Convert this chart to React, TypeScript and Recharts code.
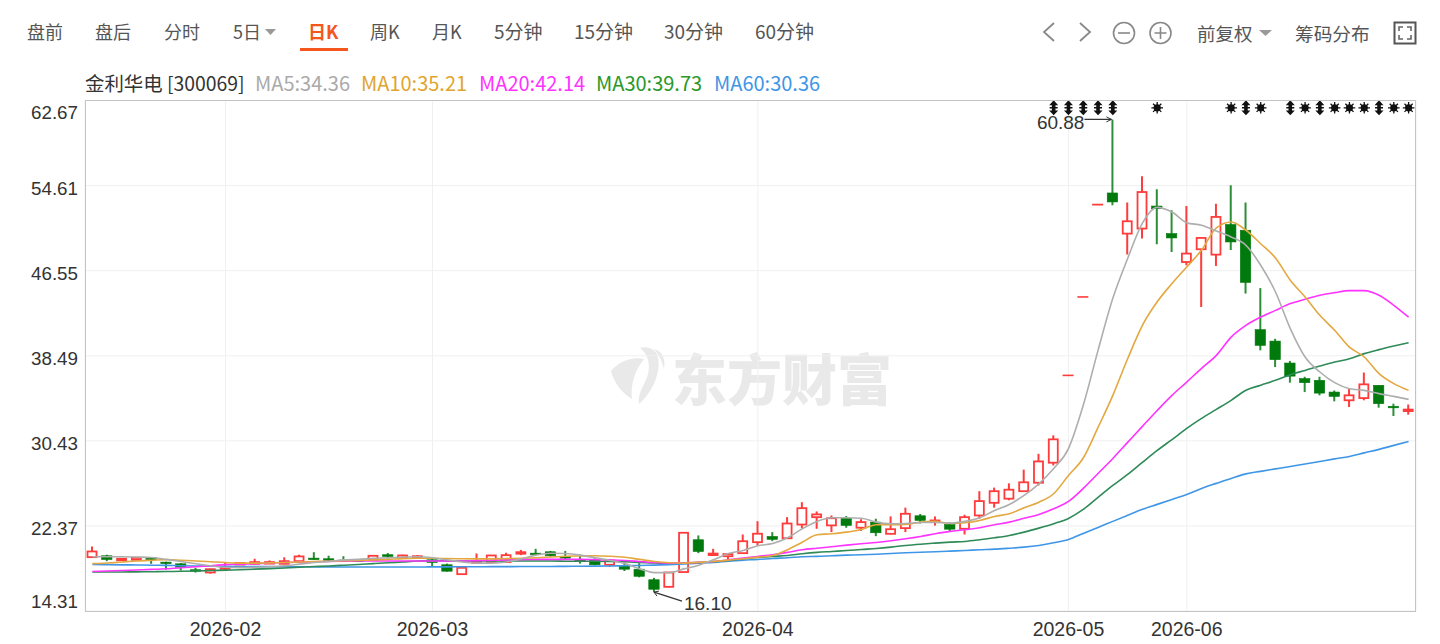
import React from 'react';
import { ComposedChart, Bar, Line, XAxis, YAxis, CartesianGrid } from 'recharts';

const dates = [
  '2026-01-20','2026-01-21','2026-01-22','2026-01-23','2026-01-26','2026-01-27','2026-01-28','2026-01-29','2026-01-30',
  '2026-02-02','2026-02-03','2026-02-04','2026-02-05','2026-02-06','2026-02-09','2026-02-10','2026-02-11','2026-02-12','2026-02-13','2026-02-24','2026-02-25','2026-02-26','2026-02-27',
  '2026-03-02','2026-03-03','2026-03-04','2026-03-05','2026-03-06','2026-03-09','2026-03-10','2026-03-11','2026-03-12','2026-03-13','2026-03-16','2026-03-17','2026-03-18','2026-03-19','2026-03-20','2026-03-23','2026-03-24','2026-03-25','2026-03-26','2026-03-27','2026-03-30','2026-03-31',
  '2026-04-01','2026-04-02','2026-04-03','2026-04-07','2026-04-08','2026-04-09','2026-04-10','2026-04-13','2026-04-14','2026-04-15','2026-04-16','2026-04-17','2026-04-20','2026-04-21','2026-04-22','2026-04-23','2026-04-24','2026-04-27','2026-04-28','2026-04-29','2026-04-30',
  '2026-05-06','2026-05-07','2026-05-08','2026-05-11','2026-05-12','2026-05-13','2026-05-14','2026-05-15',
  '2026-06-01','2026-06-02','2026-06-03','2026-06-04','2026-06-05','2026-06-08','2026-06-09','2026-06-10','2026-06-11','2026-06-12','2026-06-15','2026-06-16','2026-06-17','2026-06-18','2026-06-22','2026-06-23',
];
const monthTicks = ['2026-02-02','2026-03-02','2026-04-01','2026-05-06','2026-06-01'];
const priceTicks = [14.31,22.37,30.43,38.49,46.55,54.61,62.67];

const opens = [19.41,19.54,19.12,19.16,19.35,18.94,18.78,18.22,17.96,18.4,18.8,18.78,18.9,18.78,19.03,19.32,19.26,19.12,19.12,19.16,19.64,19.35,19.35,19.16,18.69,17.8,18.88,18.94,18.94,19.79,19.79,19.92,19.48,19.2,19.16,18.69,18.62,18.27,17.27,16.6,18.0,21.06,19.7,19.5,19.79,20.83,21.37,21.2,22.5,23.2,22.42,23.1,22.2,22.73,21.62,22.16,23.33,22.73,22.5,22.1,23.36,24.56,24.95,25.66,26.46,28.36,36.63,44.06,52.81,53.91,50.06,50.54,52.67,50.06,47.37,48.58,48.07,50.92,50.38,40.96,39.88,37.8,36.32,36.16,35.05,34.27,34.48,35.69,33.7,33.33];
const closes = [19.95,19.19,19.26,19.35,19.16,18.84,18.46,18.08,18.27,18.45,18.85,18.94,18.94,19.03,19.48,19.26,19.19,19.08,19.08,19.54,19.48,19.57,19.5,18.91,18.08,18.4,19.03,19.57,19.6,19.88,19.7,19.54,19.32,19.05,18.69,19.1,18.27,17.6,16.37,17.96,21.72,19.95,19.75,19.7,20.92,21.63,21.1,22.6,24.05,23.46,23.1,22.42,22.73,21.72,22.06,23.52,22.89,22.89,22.06,23.2,24.72,25.66,25.8,26.5,28.48,30.57,36.63,44.06,52.81,53.06,51.23,54.0,52.42,49.65,48.17,49.65,51.64,49.27,45.44,39.47,38.12,36.56,35.94,34.95,34.64,34.74,35.78,33.95,33.57,33.39];
const highs = [20.43,19.64,19.3,19.38,19.4,18.98,18.85,18.4,18.32,18.95,18.95,19.26,19.1,19.4,19.64,19.88,19.55,19.5,19.2,19.6,19.8,19.65,19.6,19.25,18.8,18.42,19.76,19.6,19.83,20.1,20.2,20.0,20.0,19.65,19.3,19.15,18.9,18.84,17.45,18.0,21.75,21.47,20.2,19.8,21.56,22.82,21.78,23.2,24.62,23.74,23.36,23.3,23.0,23.05,23.27,24.1,23.5,23.27,22.7,23.43,25.66,26.0,26.4,27.7,29.2,30.95,36.63,44.06,52.81,60.88,53.0,55.49,54.27,52.28,52.68,49.65,52.9,54.65,53.0,44.9,40.1,38.0,36.5,36.5,35.2,35.37,36.9,35.7,33.95,33.87];
const lows = [19.41,19.03,19.08,19.14,18.78,18.22,18.15,17.95,17.85,18.2,18.7,18.75,18.8,18.75,19.0,19.2,19.05,18.98,19.0,19.14,19.3,19.3,19.3,18.55,18.05,17.75,18.85,18.9,18.9,19.6,19.6,19.45,19.2,18.8,18.65,18.5,18.1,17.5,16.1,16.55,17.95,19.79,19.6,19.1,19.75,20.53,20.93,21.2,22.16,22.1,21.78,22.2,21.9,21.4,21.6,21.78,22.6,22.4,21.85,21.56,23.05,24.1,24.8,25.6,26.2,28.1,36.63,44.06,52.81,52.75,48.08,49.59,49.05,48.32,47.06,43.11,47.0,48.5,44.38,39.0,37.42,35.94,35.05,34.74,34.17,33.63,34.27,33.57,32.78,32.91];

const ma5 = [19.45,19.45,19.45,19.42,19.38,19.2,19.0,18.78,18.6,18.45,18.42,18.45,18.5,18.6,18.75,18.9,19.0,19.15,19.2,19.3,19.35,19.42,19.45,19.35,19.15,18.95,18.85,18.85,18.95,19.25,19.6,19.78,19.75,19.6,19.35,19.1,18.8,18.3,17.95,17.95,18.3,18.65,19.16,19.75,20.05,20.5,20.7,21.25,22.1,22.8,23.15,23.15,23.1,22.73,22.57,22.6,22.7,22.7,22.63,22.8,23.15,23.83,24.4,25.26,26.36,27.8,29.7,33.8,39.0,43.93,47.7,51.05,52.55,52.1,51.1,50.85,50.3,49.74,48.95,47.06,44.53,41.06,38.37,36.95,35.94,35.37,35.21,34.9,34.64,34.36];
const ma10 = [18.8,18.85,18.95,19.05,19.12,19.18,19.12,19.05,18.98,18.9,18.85,18.85,18.87,18.9,18.95,19.0,19.03,19.07,19.1,19.15,19.2,19.27,19.3,19.3,19.28,19.26,19.25,19.25,19.27,19.3,19.35,19.42,19.5,19.52,19.55,19.5,19.4,19.2,19.0,18.88,18.85,18.92,19.0,19.13,19.26,19.41,19.57,20.11,20.83,21.53,21.63,21.78,22.03,22.48,22.48,22.5,22.73,22.8,22.6,22.67,22.89,23.27,23.52,24.09,24.62,25.42,27.15,28.8,31.7,34.74,38.2,41.37,43.6,45.33,46.9,48.5,50.6,51.16,50.38,49.1,47.75,45.64,44.06,42.32,40.9,39.3,38.37,36.8,35.85,35.21];
const ma20 = [18.05,18.1,18.15,18.2,18.25,18.31,18.4,18.5,18.6,18.7,18.75,18.8,18.85,18.9,18.94,18.97,19.0,19.03,19.05,19.05,19.05,19.05,19.05,19.05,19.05,19.05,19.08,19.12,19.15,19.18,19.2,19.2,19.2,19.2,19.18,19.15,19.1,19.0,18.9,18.85,18.88,18.92,19.0,19.15,19.32,19.48,19.64,19.86,20.11,20.26,20.4,20.55,20.68,20.8,20.96,21.15,21.37,21.63,21.85,22.0,22.2,22.48,22.73,23.1,23.46,24.0,24.69,25.92,27.34,28.76,30.28,31.8,33.31,34.74,36.0,37.3,38.53,40.26,41.37,42.16,42.79,43.43,43.84,44.22,44.47,44.66,44.66,44.22,43.27,42.14];
const ma30 = [18.0,18.0,18.01,18.02,18.03,18.05,18.07,18.1,18.14,18.18,18.22,18.28,18.32,18.38,18.45,18.52,18.58,18.65,18.72,18.8,18.88,18.96,19.04,19.08,19.06,19.05,19.04,19.04,19.04,19.04,19.04,19.04,19.03,19.03,19.02,19.0,18.97,18.92,18.86,18.84,18.86,18.9,18.98,19.1,19.26,19.38,19.48,19.57,19.73,19.86,19.95,20.04,20.14,20.23,20.36,20.52,20.64,20.74,20.83,20.9,21.06,21.25,21.47,21.78,22.16,22.58,23.08,23.93,25.07,26.2,27.25,28.39,29.52,30.55,31.61,32.56,33.41,34.27,35.22,35.7,36.16,36.7,37.1,37.51,37.89,38.2,38.69,39.07,39.41,39.73];
const ma60 = [18.72,18.7,18.68,18.67,18.65,18.63,18.6,18.58,18.56,18.54,18.53,18.52,18.51,18.5,18.5,18.49,18.49,18.48,18.48,18.48,18.48,18.48,18.48,18.49,18.49,18.5,18.5,18.51,18.51,18.52,18.52,18.53,18.54,18.55,18.56,18.57,18.6,18.62,18.66,18.7,18.76,18.84,18.92,19.03,19.13,19.19,19.29,19.35,19.45,19.48,19.54,19.6,19.64,19.69,19.76,19.83,19.88,19.92,19.98,20.04,20.11,20.17,20.26,20.36,20.52,20.77,21.09,21.66,22.23,22.8,23.37,23.94,24.41,24.88,25.35,25.92,26.4,26.87,27.3,27.54,27.77,28.0,28.24,28.48,28.72,28.95,29.29,29.62,30.0,30.36];

const doubleMarks = [65,66,67,68,69,78,81,83,87];
const starMarks = [72,77,79,82,84,85,86,88,89];
const markLevel = 61.98;
const highNote = 69;
const lowNote = 38;

const tabs = [
  ['盘前',27],['盘后',95],['分时',164],['5日',233],['日K',308],['周K',370],['月K',432],['5分钟',494],['15分钟',574],['30分钟',664],['60分钟',755],
] as [string, number][];
const legendItems = [
  ['金利华电 [300069]',85,'#333333',19.4],['MA5:34.36',255,'#aaaaaa',20],['MA10:35.21',361,'#e0a52e',20],['MA20:42.14',479,'#ff33ff',20],['MA30:39.73',596,'#2a982a',20],['MA60:30.36',714,'#3f96e6',20],
] as [string, number, string, number][];

const rows = dates.map((date, i) => ({
  date, open: opens[i], close: closes[i], high: highs[i], low: lows[i],
  range: [lows[i], highs[i]],
  ma5: ma5[i], ma10: ma10[i], ma20: ma20[i], ma30: ma30[i], ma60: ma60[i],
  mark: doubleMarks.includes(i) || starMarks.includes(i) ? markLevel : null,
  markKind: doubleMarks.includes(i) ? 'double' : starMarks.includes(i) ? 'star' : null,
  idx: i,
}));

const RED = '#ff3b3b';
const GREEN = '#007a0c';
const WICK = '#2c8f37';
const FONT = '"Noto Sans CJK SC", "Noto Sans", sans-serif';
const NUM = '"Liberation Sans", Arial, sans-serif';

function Candle(props: any) {
  const { x, y, width, height, payload } = props;
  const cx = x + width / 2;
  const { open, close, high, low, idx } = payload;
  const span = high - low;
  const up = close >= open;
  const notes: React.ReactNode[] = [];
  if (idx === highNote) {
    notes.push(
      <g key="h">
        <line x1={cx - 28} y1={y} x2={cx - 1} y2={y} stroke="#333" strokeWidth={1.2} />
        <path d={`M${cx - 6} ${y - 2.5}L${cx - 1} ${y}L${cx - 6} ${y + 2.5}`} fill="none" stroke="#333" strokeWidth={1} />
        <text x={cx - 28} y={y + 3} textAnchor="end" dominantBaseline="central" fontSize={19} fontFamily={NUM} fill="#333">{high.toFixed(2)}</text>
      </g>
    );
  }
  if (idx === lowNote) {
    const ly = y + height;
    notes.push(
      <g key="l">
        <line x1={cx} y1={ly} x2={cx + 28} y2={ly + 9} stroke="#333" strokeWidth={1.2} />
        <path d={`M${cx + 5} ${ly - 1}L${cx} ${ly}L${cx + 3} ${ly + 4}`} fill="none" stroke="#333" strokeWidth={1} />
        <text x={cx + 30} y={ly + 11} textAnchor="start" dominantBaseline="central" fontSize={19} fontFamily={NUM} fill="#333">{low.toFixed(2)}</text>
      </g>
    );
  }
  if (span === 0) {
    return <line x1={cx - 5.5} x2={cx + 5.5} y1={y} y2={y} stroke={RED} strokeWidth={1.6} />;
  }
  const unit = height / span;
  const top = y + (high - Math.max(open, close)) * unit;
  const bottom = y + (high - Math.min(open, close)) * unit;
  const bodyH = Math.max(bottom - top, 1.5);
  return (
    <g>
      <line x1={cx} x2={cx} y1={y} y2={y + height} stroke={up ? RED : WICK} strokeWidth={2} />
      {up
        ? <rect x={cx - 4.5} y={top} width={9} height={bodyH} fill="#fff" stroke={RED} strokeWidth={1.8} />
        : <rect x={cx - 5.2} y={top} width={10.4} height={bodyH} fill={GREEN} stroke={GREEN} strokeWidth={0.6} />}
      {notes}
    </g>
  );
}

function MarkDot(props: any) {
  const { cx, cy, payload } = props;
  if (payload.markKind === null || cy == null) return <g key={props.index} />;
  if (payload.markKind === 'star') {
    const rays = [0, 45, 90, 135];
    return (
      <g key={props.index} transform={`translate(${cx},${cy})`}>
        <circle r={3.6} fill="#111" />
        {rays.map((a) => <line key={a} x1={-5.8} x2={5.8} y1={0} y2={0} stroke="#111" strokeWidth={1.3} transform={`rotate(${a})`} />)}
      </g>
    );
  }
  return (
    <g key={props.index} transform={`translate(${cx},${cy})`}>
      <path d="M0 -7.5L4.5 -2.6L1.8 -2.6L1.8 -0.8L4 -0.8L4 0.8L1.8 0.8L1.8 2.6L4.5 2.6L0 7.5L-4.5 2.6L-1.8 2.6L-1.8 0.8L-4 0.8L-4 -0.8L-1.8 -0.8L-1.8 -2.6L-4.5 -2.6Z" fill="#111" />
    </g>
  );
}

function PriceTick(props: any) {
  const { y, payload } = props;
  const v = payload.value;
  const shift = v === priceTicks[6] ? 12 : v === priceTicks[0] ? -10 : 3;
  return <text x={78} y={y + shift} textAnchor="end" dominantBaseline="central" fontSize={18.8} fontFamily={NUM} fill="#333">{v.toFixed(2)}</text>;
}

function DateTick(props: any) {
  const { x, payload } = props;
  return <text x={x} y={629} textAnchor="middle" dominantBaseline="central" fontSize={19.5} fontFamily={NUM} fill="#333">{String(payload.value).slice(0, 7)}</text>;
}

const Tab = ({ t, left }: { t: string; left: number }) => {
  const on = t === '日K';
  const size = t.length > 2 ? 19 : 18;
  return <span style={{ position: 'absolute', left, top: 18, fontSize: size, lineHeight: '26px', whiteSpace: 'nowrap', fontFamily: FONT, color: on ? '#f5561e' : '#555', fontWeight: on ? 700 : 400 }}>{t}</span>;
};

export default function App() {
  return (
    <div style={{ position: 'absolute', left: 0, top: 0, width: 1440, height: 644, overflow: 'hidden', background: '#fff' }}>
      {tabs.map(([t, left]) => <Tab key={t} t={t} left={left} />)}
      <div style={{ position: 'absolute', left: 300, top: 48, width: 48, height: 2.5, background: '#f5561e' }} />
      <svg style={{ position: 'absolute', left: 0, top: 0 }} width={1440} height={70}>
        <path d="M265 29h11l-5.5 6z" fill="#999" />
        <path d="M1054 23l-10 9 10 9" fill="none" stroke="#888" strokeWidth={1.8} />
        <path d="M1080 23l10 9-10 9" fill="none" stroke="#888" strokeWidth={1.8} />
        <circle cx={1124} cy={33} r={10.5} fill="none" stroke="#888" strokeWidth={1.6} />
        <path d="M1118 33h12" stroke="#888" strokeWidth={1.6} />
        <circle cx={1160.5} cy={33} r={10.5} fill="none" stroke="#888" strokeWidth={1.6} />
        <path d="M1154.5 33h12M1160.5 27v12" stroke="#888" strokeWidth={1.6} />
        <path d="M1259 30h13l-6.5 6z" fill="#999" />
        <rect x={1394.5} y={22.5} width={21} height={21} fill="none" stroke="#555" strokeWidth={2} />
        <path d="M1399 31v-4h4M1407 27h4v4M1411 35v4h-4M1403 39h-4v-4" fill="none" stroke="#666" strokeWidth={1.6} />
      </svg>
      <span style={{ position: 'absolute', left: 1197, top: 20, fontSize: 18.5, lineHeight: '26px', fontFamily: FONT, color: '#555' }}>前复权</span>
      <span style={{ position: 'absolute', left: 1295, top: 20, fontSize: 18.7, lineHeight: '26px', fontFamily: FONT, color: '#555' }}>筹码分布</span>
      {legendItems.map(([t, left, color, size]) => (
        <span key={t} style={{ position: 'absolute', left, top: 71, fontSize: size, lineHeight: '24px', whiteSpace: 'nowrap', fontFamily: FONT, color }}>{t}</span>
      ))}
      <svg style={{ position: 'absolute', left: 0, top: 0 }} width={1440} height={644}>
        <g fill="#e9e9e9">
          <path d="M611 371c10-12 25-14 33-12-8 10-14 24-12 40-10-6-18-16-21-28z" />
          <path d="M640 348c10 8 12 22 4 36-3 6-6 12-5 20 12-10 24-32 18-50-3-5-10-8-17-6z" />
          <path d="M654 349c8 2 12 10 10 20-2-8-5-14-10-20z" />
        </g>
        <text x={672} y={376} dominantBaseline="central" fontSize={55} fontWeight={900} fontFamily={FONT} fill="#e9e9e9">东方财富</text>
      </svg>
      <div style={{ position: 'absolute', left: 0, top: 0 }}>
        <ComposedChart width={1440} height={644} data={rows} margin={{ top: 100.5, right: 24, bottom: 0, left: 0 }} barCategoryGap={0}>
          <CartesianGrid stroke="#f0f0f0" strokeWidth={1} />
          <XAxis dataKey="date" ticks={monthTicks} interval={0} height={33} tick={<DateTick />} tickLine={false} axisLine={false} />
          <YAxis type="number" domain={[priceTicks[0], priceTicks[6]]} ticks={priceTicks} width={85} tick={<PriceTick />} tickLine={false} axisLine={false} allowDataOverflow />
          <Bar dataKey="range" barSize={10} shape={<Candle />} isAnimationActive={false} />
          <Line dataKey="ma60" type="monotone" stroke="#3f96e6" strokeWidth={1.6} dot={false} isAnimationActive={false} />
          <Line dataKey="ma30" type="monotone" stroke="#2e8b57" strokeWidth={1.6} dot={false} isAnimationActive={false} />
          <Line dataKey="ma20" type="monotone" stroke="#ff33ff" strokeWidth={1.6} dot={false} isAnimationActive={false} />
          <Line dataKey="ma10" type="monotone" stroke="#e3a83f" strokeWidth={1.6} dot={false} isAnimationActive={false} />
          <Line dataKey="ma5" type="monotone" stroke="#aeaeae" strokeWidth={1.6} dot={false} isAnimationActive={false} />
          <Line dataKey="mark" stroke="none" dot={<MarkDot />} isAnimationActive={false} />
        </ComposedChart>
      </div>
      <div style={{ position: 'absolute', left: 85, top: 100, width: 1329, height: 509.5, border: '1.5px solid #c4c4c4', pointerEvents: 'none' }} />
    </div>
  );
}
